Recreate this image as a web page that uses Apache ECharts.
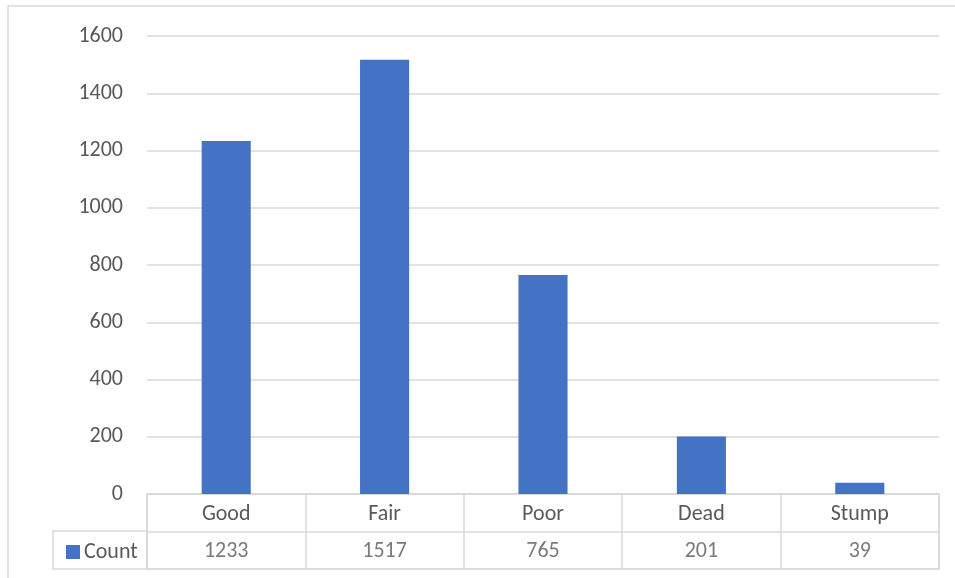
<!DOCTYPE html>
<html>
<head>
<meta charset="utf-8">
<script src="https://cdn.jsdelivr.net/npm/echarts@6/dist/echarts.min.js"></script>
<style>
  html, body { margin: 0; padding: 0; background: #fff; }
  #main { width: 955px; height: 578px; }
</style>
</head>
<body>
<div id="main"></div>
<script>
// tree condition counts
var categories = ['Good', 'Fair', 'Poor', 'Dead', 'Stump'];
var counts = [1233, 1517, 765, 201, 39];
var seriesName = 'Count';
var yTicks = { min: 0, max: 1600, interval: 200 };

var lineColor = '#d9d9d9';
var textColor = '#595959';
var font = 'Calibri, Carlito, "Liberation Sans", sans-serif';
var fs = 22;

var chart = echarts.init(document.getElementById('main'));

var option = {
  animation: false,
  color: ['#4472C4'],
  textStyle: { fontFamily: font },
  graphic: [{
    type: 'rect',
    shape: { x: 8, y: 6, width: 960, height: 590 },
    style: { fill: null, stroke: lineColor, lineWidth: 1.5 }
  }],
  legend: {
    data: [seriesName],
    left: 61,
    top: 536,
    itemWidth: 14,
    itemHeight: 14,
    itemGap: 4,
    icon: 'rect',
    textStyle: { fontSize: fs, color: textColor, fontFamily: font, padding: [0, 0, 0, -1] }
  },
  grid: [
    // plot area
    { left: 147, right: 16, top: 36, bottom: 84 },
    // data table body (category row + value row)
    { left: 147, right: 16, top: 494, height: 75, show: true, borderColor: lineColor, borderWidth: 1.5 },
    // legend key cell
    { left: 53, width: 94, top: 531, height: 38, show: true, borderColor: lineColor, borderWidth: 1.5 }
  ],
  xAxis: [
    {
      type: 'category', gridIndex: 0, data: categories,
      axisLine: { show: false }, axisTick: { show: false },
      axisLabel: { margin: 9, fontSize: fs, color: textColor }
    },
    {
      type: 'category', gridIndex: 1, data: categories,
      axisLine: { show: false }, axisTick: { show: false }, axisLabel: { show: false },
      splitLine: { show: true, lineStyle: { color: lineColor, width: 1.5 } }
    },
    { type: 'value', gridIndex: 2, show: false }
  ],
  yAxis: [
    {
      type: 'value', gridIndex: 0,
      min: yTicks.min, max: yTicks.max, interval: yTicks.interval,
      axisLine: { show: false }, axisTick: { show: false },
      axisLabel: { margin: 24, fontSize: fs, color: textColor, formatter: function (v) { return String(v); } },
      splitLine: { lineStyle: { color: lineColor, width: 1.5 } }
    },
    {
      type: 'value', gridIndex: 1, min: 0, max: 2, interval: 1,
      axisLine: { show: false }, axisTick: { show: false }, axisLabel: { show: false },
      splitLine: { show: true, lineStyle: { color: lineColor, width: 1.5 } }
    },
    { type: 'value', gridIndex: 2, show: false }
  ],
  series: [
    {
      name: seriesName,
      type: 'bar',
      xAxisIndex: 0, yAxisIndex: 0,
      barWidth: '31%',
      data: counts
    },
    {
      // values row of the data table
      type: 'scatter',
      xAxisIndex: 1, yAxisIndex: 1,
      symbolSize: 0,
      silent: true,
      data: counts.map(function (v, i) { return [i, 0.5, v]; }),
      label: {
        show: true,
        position: 'inside',
        offset: [0, 1],
        fontSize: fs,
        color: textColor,
        formatter: function (p) { return p.value[2]; }
      }
    }
  ]
};

chart.setOption(option);
</script>
</body>
</html>
